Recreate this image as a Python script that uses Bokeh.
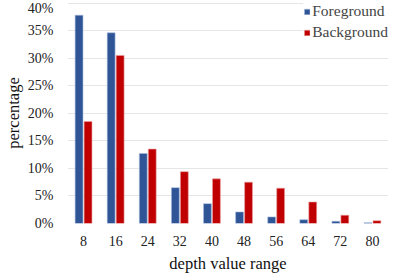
from bokeh.plotting import figure
from bokeh.models import FactorRange, NumeralTickFormatter, FixedTicker, Legend, LegendItem, ColumnDataSource
from bokeh.transform import dodge
from bokeh.embed import file_html
from bokeh.resources import INLINE

categories = ["8", "16", "24", "32", "40", "48", "56", "64", "72", "80"]
foreground = [0.378, 0.346, 0.127, 0.065, 0.036, 0.021, 0.012, 0.007, 0.004, 0.0015]
background = [0.185, 0.305, 0.135, 0.094, 0.081, 0.075, 0.064, 0.039, 0.015, 0.005]
y_ticks = [0.0, 0.05, 0.10, 0.15, 0.20, 0.25, 0.30, 0.35, 0.40]

FONT = "Liberation Serif"
BLUE = "#2F5597"
RED = "#C00000"

src = ColumnDataSource(dict(cat=categories, fg=foreground, bg=background))

p = figure(x_range=FactorRange(*categories), y_range=(0, 0.401),
           width=389, height=275, output_backend="svg", toolbar_location=None,
           min_border_left=0, min_border_right=1, min_border_top=2, min_border_bottom=0)
p.outline_line_color = None
p.background_fill_color = "white"

r1 = p.vbar(x=dodge("cat", -0.14, range=p.x_range), top="fg", width=0.245, source=src,
            fill_color=BLUE, line_color="#A9BCDD", line_width=0.6)
r2 = p.vbar(x=dodge("cat", 0.14, range=p.x_range), top="bg", width=0.245, source=src,
            fill_color=RED, line_color="#E8A0A0", line_width=0.6)

p.yaxis.ticker = FixedTicker(ticks=y_ticks)
p.yaxis.formatter = NumeralTickFormatter(format="0%")
for ax in (p.xaxis[0], p.yaxis[0]):
    ax.axis_line_color = None
    ax.major_tick_line_color = None
    ax.minor_tick_line_color = None
    ax.major_label_text_font = FONT
    ax.major_label_text_font_size = "14px"
    ax.major_label_text_color = "#222222"
    ax.axis_label_text_font = FONT
    ax.axis_label_text_font_size = "16.5px"
    ax.axis_label_text_font_style = "normal"
    ax.axis_label_text_color = "#111111"
p.xaxis.axis_label = "depth value range"
p.yaxis.axis_label = "percentage"
p.yaxis.major_label_standoff = 8
p.xaxis.major_label_standoff = 6
p.xaxis.axis_label_standoff = 5
p.yaxis.axis_label_standoff = 2

p.xgrid.grid_line_color = None
p.ygrid.grid_line_color = "#E6E6E6"
p.ygrid.grid_line_width = 1.2

legend = Legend(items=[LegendItem(label="Foreground", renderers=[r1]),
                       LegendItem(label="Background", renderers=[r2])],
                location="top_right", border_line_color=None,
                background_fill_color="white", background_fill_alpha=1.0,
                label_text_font=FONT, label_text_font_size="15.5px",
                glyph_width=7, glyph_height=7, label_standoff=2,
                spacing=3, padding=1, margin=0, label_height=18)
p.add_layout(legend)

open("out.html", "w").write(file_html(p, INLINE))
